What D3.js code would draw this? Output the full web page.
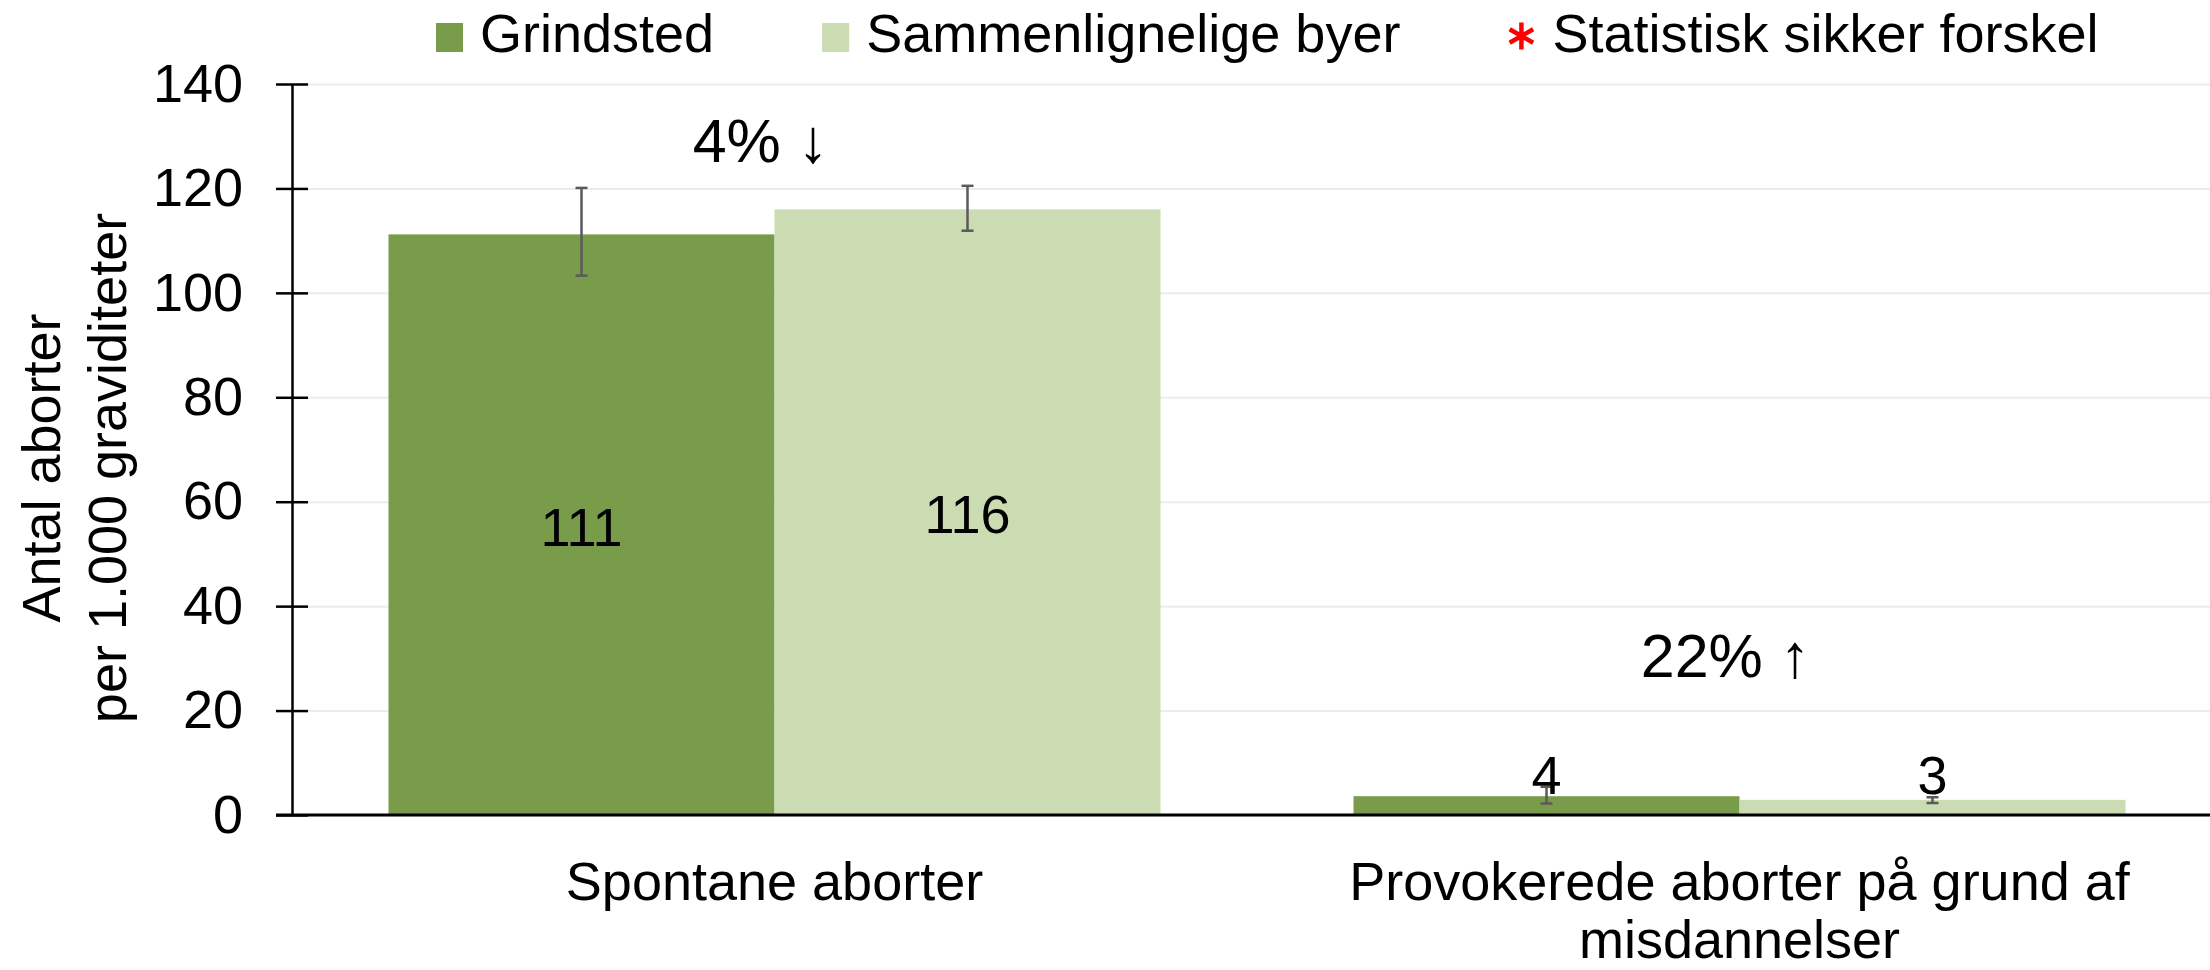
<!DOCTYPE html>
<html>
<head>
<meta charset="utf-8">
<script src="https://cdn.jsdelivr.net/npm/d3@7"></script>
<style>
  body { margin: 0; background: #fff; }
  text { font-family: "Liberation Sans", Arial, sans-serif; fill: #000; }
</style>
</head>
<body>
<script>
const w = 2210;
const h = 970;

// data
const categories = ["Spontane aborter", "Provokerede aborter på grund af misdannelser"];
const seriesNames = ["Grindsted", "Sammenlignelige byer"];
const grindsted = [111.2, 3.6];
const sammenlignelige = [116.0, 2.9];
const grindstedLow = [103.3, 2.2];
const grindstedHigh = [120.1, 5.4];
const sammenLow = [111.9, 2.3];
const sammenHigh = [120.5, 3.4];
const changeLabels = ["4% \u2193", "22% \u2191"];
const changeAt = [125, 26.5];
const yTicks = [0, 20, 40, 60, 80, 100, 120, 140];
const legendNames = ["Grindsted", "Sammenlignelige byer", "Statistisk sikker forskel"];

const colors = ["#799c4a", "#cbdcb3"];

const rows = [];
categories.forEach((c, i) => {
  rows.push({ cat: c, s: seriesNames[0], v: grindsted[i], lo: grindstedLow[i], hi: grindstedHigh[i] });
  rows.push({ cat: c, s: seriesNames[1], v: sammenlignelige[i], lo: sammenLow[i], hi: sammenHigh[i] });
});

const svg = d3.select("body")
  .append("svg")
  .attr("width", w)
  .attr("height", h);

const y = d3.scaleLinear().domain([0, 140]).range([815, 84]);
const x0 = d3.scaleBand().domain(categories).range([292, 2222]).paddingInner(0.2).paddingOuter(0.1);
const x1 = d3.scaleBand().domain(seriesNames).range([0, x0.bandwidth()]);
const color = d3.scaleOrdinal().domain(seriesNames).range(colors);

// gridlines
svg.append("g")
  .attr("transform", "translate(292,0)")
  .call(d3.axisLeft(y).tickValues(yTicks).tickSize(-2000).tickFormat(""))
  .call(g => g.select(".domain").remove())
  .call(g => g.selectAll("line").attr("stroke", "#ececec").attr("stroke-width", 2));

// bars
svg.selectAll(".bar")
  .data(rows)
  .enter()
  .append("rect")
    .attr("class", "bar")
    .attr("x", d => x0(d.cat) + x1(d.s))
    .attr("y", d => y(d.v))
    .attr("width", x1.bandwidth())
    .attr("height", d => y(0) - y(d.v))
    .style("fill", d => color(d.s));

// error bars
const err = svg.selectAll(".err")
  .data(rows)
  .enter()
  .append("g")
    .attr("class", "err")
    .attr("transform", d => `translate(${x0(d.cat) + x1(d.s) + x1.bandwidth() / 2},0)`)
    .attr("stroke", "#5a5a5a")
    .attr("stroke-width", 2.5);
err.append("line").attr("y1", d => y(d.lo)).attr("y2", d => y(d.hi));
err.append("line").attr("x1", -6).attr("x2", 6).attr("y1", d => y(d.lo)).attr("y2", d => y(d.lo));
err.append("line").attr("x1", -6).attr("x2", 6).attr("y1", d => y(d.hi)).attr("y2", d => y(d.hi));

// value labels
svg.selectAll(".val")
  .data(rows)
  .enter()
  .append("text")
    .attr("class", "val")
    .attr("x", d => x0(d.cat) + x1(d.s) + x1.bandwidth() / 2)
    .attr("y", d => (y(0) - y(d.v) > 80) ? (y(d.v) + y(0)) / 2 + 21 : y(0) - 21)
    .attr("text-anchor", "middle")
    .style("font-size", "54px")
    .text(d => d3.format(".0f")(d.v));

// y axis
svg.append("g")
  .attr("transform", "translate(292,0)")
  .call(d3.axisLeft(y).tickValues(yTicks).tickSize(16).tickSizeOuter(0).tickPadding(33))
  .call(g => g.select(".domain").attr("stroke", "#000").attr("stroke-width", 2.5))
  .call(g => g.selectAll(".tick line").attr("x1", 16).attr("x2", -16).attr("stroke", "#000").attr("stroke-width", 2.5))
  .call(g => g.selectAll(".tick text").style("font-size", "54px").style("font-family", "Liberation Sans, Arial, sans-serif").attr("fill", "#000"));

// x axis
const xAxis = svg.append("g")
  .attr("transform", "translate(0,815)")
  .call(d3.axisBottom(x0).tickSize(0))
  .call(g => g.select(".domain").remove());
xAxis.append("line")
  .attr("x1", 276).attr("x2", w)
  .attr("stroke", "#000").attr("stroke-width", 3);

xAxis.selectAll(".tick text")
  .style("font-size", "54px")
  .style("font-family", "Liberation Sans, Arial, sans-serif")
  .attr("fill", "#000")
  .attr("y", 85)
  .attr("dy", 0)
  .each(function(d) {
    const t = d3.select(this);
    const words = d.split(" ");
    t.text(null);
    let line = [];
    let tspan = t.append("tspan").attr("x", 0).attr("dy", 0);
    words.forEach(word => {
      line.push(word);
      tspan.text(line.join(" "));
      if (tspan.node().getComputedTextLength() > 880 && line.length > 1) {
        line.pop();
        tspan.text(line.join(" "));
        line = [word];
        tspan = t.append("tspan").attr("x", 0).attr("dy", 58).text(word);
      }
    });
  });

// change annotations
svg.selectAll(".chg")
  .data(categories)
  .enter()
  .append("text")
    .attr("class", "chg")
    .attr("x", d => x0(d) + x0.bandwidth() / 2 - 14)
    .attr("y", (d, i) => y(changeAt[i]))
    .attr("text-anchor", "middle")
    .style("font-size", "61px")
    .text((d, i) => changeLabels[i]);

// y title
svg.append("text")
  .attr("transform", "translate(60,468) rotate(-90)")
  .attr("text-anchor", "middle")
  .style("font-size", "54px")
  .call(t => {
    t.append("tspan").attr("x", 0).attr("dy", 0).text("Antal aborter");
    t.append("tspan").attr("x", 0).attr("dy", 66).text("per 1.000 graviditeter");
  });

// legend
let lx = 436;
legendNames.forEach((name, i) => {
  const g = svg.append("g");
  if (i < 2) {
    g.append("rect")
      .attr("x", lx).attr("y", 23)
      .attr("width", 27).attr("height", 29)
      .style("fill", colors[i]);
  } else {
    g.append("path")
      .attr("d", d3.symbol(d3.symbolAsterisk, 520)())
      .attr("transform", `translate(${lx + 13},36)`)
      .attr("fill", "none")
      .attr("stroke", "#ff0000")
      .attr("stroke-width", 4.5);
  }
  const txt = g.append("text")
    .attr("x", lx + 44)
    .attr("y", 52)
    .style("font-size", "54px")
    .text(name);
  lx = lx + 44 + txt.node().getComputedTextLength() + 108;
});
</script>
</body>
</html>
